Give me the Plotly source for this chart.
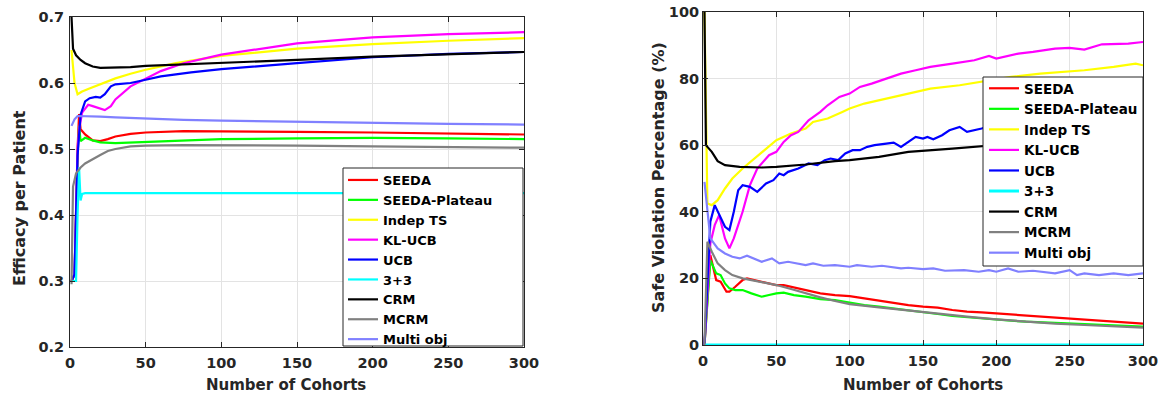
import plotly.graph_objects as go

# ---------------- Left panel: Efficacy per Patient ----------------
eff_seeda_x = [1, 3, 5, 6, 7, 10, 15, 20, 25, 30, 40, 50, 75, 100, 150, 200, 250, 300]
eff_seeda_y = [0.30, 0.31, 0.50, 0.553, 0.530, 0.522, 0.513, 0.512, 0.515, 0.519, 0.523, 0.525, 0.527, 0.527, 0.526, 0.525, 0.523, 0.522]

eff_plateau_x = [1, 3, 5, 6, 7, 10, 15, 20, 30, 40, 50, 75, 100, 150, 200, 250, 300]
eff_plateau_y = [0.30, 0.31, 0.49, 0.535, 0.512, 0.517, 0.513, 0.510, 0.509, 0.510, 0.511, 0.513, 0.515, 0.516, 0.517, 0.516, 0.515]

eff_indep_x = [1, 3, 5, 8, 12, 20, 30, 40, 50, 70, 100, 150, 200, 250, 300]
eff_indep_y = [0.65, 0.60, 0.583, 0.587, 0.591, 0.598, 0.607, 0.614, 0.620, 0.630, 0.641, 0.652, 0.659, 0.664, 0.668]

eff_klucb_x = [1, 3, 5, 6, 8, 12, 15, 20, 23, 27, 30, 40, 50, 60, 75, 100, 150, 200, 250, 300]
eff_klucb_y = [0.30, 0.31, 0.50, 0.530, 0.555, 0.567, 0.565, 0.561, 0.559, 0.565, 0.575, 0.595, 0.607, 0.618, 0.630, 0.643, 0.660, 0.669, 0.674, 0.677]

eff_ucb_x = [1, 3, 5, 7, 10, 13, 17, 20, 23, 27, 30, 40, 50, 60, 80, 100, 150, 200, 250, 300]
eff_ucb_y = [0.30, 0.31, 0.49, 0.552, 0.572, 0.577, 0.579, 0.578, 0.583, 0.595, 0.598, 0.600, 0.605, 0.610, 0.616, 0.621, 0.630, 0.639, 0.644, 0.647]

eff_33_x = [1, 3, 4, 5, 6, 7, 8, 10, 300]
eff_33_y = [0.30, 0.30, 0.30, 0.40, 0.472, 0.422, 0.432, 0.433, 0.433]

eff_crm_x = [1, 2, 4, 7, 10, 15, 20, 30, 40, 50, 75, 100, 150, 200, 250, 300]
eff_crm_y = [0.70, 0.652, 0.642, 0.635, 0.630, 0.625, 0.623, 0.623, 0.624, 0.626, 0.628, 0.630, 0.635, 0.640, 0.643, 0.647]

eff_mcrm_x = [1, 2, 4, 7, 10, 15, 20, 25, 30, 40, 50, 75, 100, 150, 200, 250, 300]
eff_mcrm_y = [0.295, 0.443, 0.463, 0.472, 0.478, 0.485, 0.491, 0.497, 0.500, 0.504, 0.505, 0.506, 0.506, 0.505, 0.504, 0.503, 0.502]

eff_multi_x = [1, 3, 5, 10, 20, 30, 50, 75, 100, 150, 200, 250, 300]
eff_multi_y = [0.535, 0.545, 0.550, 0.550, 0.549, 0.548, 0.546, 0.544, 0.543, 0.541, 0.539, 0.538, 0.537]

# ---------------- Right panel: Safe Violation Percentage ----------------
sv_seeda_x = [1, 5, 9, 12, 16, 18, 22, 27, 30, 35, 40, 45, 50, 55, 60, 70, 80, 90, 100, 110,
              120, 130, 140, 150, 160, 170, 180, 190, 200, 210, 220, 230, 240, 250, 260, 270, 280, 290, 300]
sv_seeda_y = [0, 27, 19.5, 19, 16, 16, 17.5, 19.5, 20, 19.5, 19, 18.5, 18, 18, 17.5, 16.5, 15.5, 15, 14.7, 14,
              13.3, 12.5, 12, 11.5, 11.2, 10.5, 10, 9.8, 9.5, 9.2, 8.8, 8.5, 8.2, 7.8, 7.5, 7.2, 6.9, 6.7, 6.4]

sv_plateau_x = [1, 5, 9, 12, 15, 18, 22, 27, 33, 40, 45, 50, 55, 62, 70, 80, 90, 100,
                110, 120, 130, 140, 150, 160, 170, 180, 190, 200, 210, 220, 230, 240, 250, 260, 270, 280, 290, 300]
sv_plateau_y = [0, 25.5, 21.5, 21, 18.5, 17, 16.5, 16.5, 15.5, 14.5, 15, 15.5, 15.7, 15, 14.5, 13.8, 13.5, 12.7,
                12, 11.5, 11, 10.3, 10, 9.3, 8.7, 8.3, 7.9, 7.6, 7.3, 7, 6.8, 6.5, 6.3, 6.1, 5.9, 5.7, 5.6, 5.5]

sv_indep_x = [1, 3, 6, 10, 15, 20, 27, 35, 45, 50, 60, 70, 75, 85, 95, 100, 110, 125, 135,
              155, 175, 195, 210, 230, 245, 260, 280, 295, 300]
sv_indep_y = [100, 42.5, 42, 43.5, 47, 50, 53, 56, 59.5, 61.5, 63.5, 65, 67, 68, 70, 71, 72.5, 74, 75,
              77, 78, 79.5, 80.5, 81.5, 82, 82.5, 83.5, 84.5, 84]

sv_klucb_x = [1, 5, 8, 11, 15, 18, 21, 27, 32, 37, 45, 50, 55, 60, 65, 72, 80, 85, 93, 100,
              107, 115, 125, 135, 145, 155, 170, 185, 195, 200, 215, 225, 240, 250, 260, 272, 290, 300]
sv_klucb_y = [0, 30.5, 36, 39, 32, 29, 32, 40, 48, 53, 57, 58, 61, 63, 64, 67.5, 70, 72, 74.5, 75.5,
              77.5, 78.5, 80, 81.5, 82.5, 83.5, 84.5, 85.5, 86.8, 86, 87.5, 88, 89, 89.2, 88.7, 90.3, 90.5, 91]

sv_ucb_x = [1, 5, 8, 12, 15, 18, 21, 24, 27, 32, 37, 43, 48, 52, 55, 58, 65, 72, 78, 83,
            87, 92, 97, 102, 107, 112, 117, 125, 130, 135, 140, 145, 150, 153, 157, 163, 168, 175, 180, 185,
            190, 197, 203, 207, 215, 220, 230, 235, 240, 245, 250, 255, 260, 270, 278, 285, 292, 300]
sv_ucb_y = [0, 37, 42, 38.5, 35.5, 34.5, 40, 46.5, 48, 47.5, 46, 48.5, 49.5, 51.5, 51, 52, 53, 54.5, 54, 55.5,
            56, 55.5, 57.5, 58.5, 58.5, 59.5, 60, 60.5, 60.8, 59.5, 61, 62.5, 62, 62.5, 61.8, 63, 64.5, 65.5, 64, 64.5,
            65, 66, 65.8, 66.3, 67.8, 67, 68, 69, 67.5, 69, 69.5, 68.5, 70, 69.5, 70, 69.5, 69, 70.5]

sv_33_x = [1, 300]
sv_33_y = [0, 0]

sv_crm_x = [1, 2, 3, 6, 10, 15, 25, 40, 50, 70, 90, 100, 120, 140, 170, 200, 230, 255, 300]
sv_crm_y = [100, 60, 59.5, 58, 55.2, 54, 53.5, 53.3, 53.5, 54.2, 55.2, 55.5, 56.5, 58, 59, 60, 61, 62, 63.2]

sv_mcrm_x = [1, 3, 6, 10, 15, 20, 27, 33, 40, 50, 60, 70, 80, 90, 100, 120, 140, 160, 180, 200,
             220, 240, 260, 280, 300]
sv_mcrm_y = [0, 31, 28, 24.5, 22.5, 21, 20, 19.5, 19, 18, 16.8, 15.5, 14.3, 13.2, 12.3, 11.3, 10.3, 9.3, 8.5, 7.7,
             7, 6.4, 6, 5.5, 5.2]

sv_multi_x = [1, 5, 10, 15, 20, 25, 30, 35, 40, 47, 52, 58, 65, 70, 75, 82, 90, 100, 105, 115,
              122, 135, 140, 150, 157, 165, 178, 188, 195, 200, 208, 215, 225, 235, 240, 250, 255, 260, 270, 280,
              290, 300]
sv_multi_y = [49, 32, 29, 27.5, 26.5, 26, 26.8, 26, 25, 26, 24.5, 25, 24.5, 24, 24.5, 23.8, 24, 23.5, 24, 23.5,
              23.8, 23, 23.2, 22.8, 23, 22.3, 22.5, 22, 22.5, 22, 23, 22, 22.3, 21.8, 21.5, 22.5, 21, 21.5, 21, 21.5,
              21, 21.5]

method_names = ["SEEDA", "SEEDA-Plateau", "Indep TS", "KL-UCB", "UCB", "3+3", "CRM", "MCRM", "Multi obj"]
method_colors = ["#FF0000", "#00FF00", "#FFFF00", "#FF00FF", "#0000FF", "#00FFFF", "#000000", "#808080", "#8080FF"]

eff_series = [(eff_seeda_x, eff_seeda_y), (eff_plateau_x, eff_plateau_y), (eff_indep_x, eff_indep_y),
              (eff_klucb_x, eff_klucb_y), (eff_ucb_x, eff_ucb_y), (eff_33_x, eff_33_y),
              (eff_crm_x, eff_crm_y), (eff_mcrm_x, eff_mcrm_y), (eff_multi_x, eff_multi_y)]
sv_series = [(sv_seeda_x, sv_seeda_y), (sv_plateau_x, sv_plateau_y), (sv_indep_x, sv_indep_y),
             (sv_klucb_x, sv_klucb_y), (sv_ucb_x, sv_ucb_y), (sv_33_x, sv_33_y),
             (sv_crm_x, sv_crm_y), (sv_mcrm_x, sv_mcrm_y), (sv_multi_x, sv_multi_y)]

FONT = "DejaVu Sans, Liberation Sans, Arial, sans-serif"
TXT = "#262626"

W, H = 1175, 397


def px(v):
    return v / W


def py(v):
    return 1 - v / H


fig = go.Figure()
for name, color, (xs, ys) in zip(method_names, method_colors, eff_series):
    fig.add_trace(go.Scatter(x=xs, y=ys, mode="lines", name=name,
                             line=dict(color=color, width=2.2),
                             xaxis="x", yaxis="y", legend="legend"))
for name, color, (xs, ys) in zip(method_names, method_colors, sv_series):
    fig.add_trace(go.Scatter(x=xs, y=ys, mode="lines", name=name,
                             line=dict(color=color, width=2.2 if name != "3+3" else 3),
                             xaxis="x2", yaxis="y2", legend="legend2",
                             cliponaxis=False if name == "3+3" else True))


def axis_style(**kw):
    d = dict(showline=True, linecolor=TXT, linewidth=1, mirror="ticks",
             ticks="inside", ticklen=5, tickcolor=TXT, tickwidth=1,
             showgrid=True, gridcolor="#e3e3e3", gridwidth=1, zeroline=False,
             tickfont=dict(family=FONT, size=14.5, color=TXT, weight="bold"),
             ticklabeloverflow="allow", automargin=False)
    d.update(kw)
    return d


title_font = dict(family=FONT, size=15, color=TXT, weight="bold")
ytitle_font = dict(family=FONT, size=16, color=TXT, weight="bold")

fig.update_layout(
    width=W, height=H,
    margin=dict(l=0, r=0, t=0, b=0),
    paper_bgcolor="white", plot_bgcolor="white",
    font=dict(family=FONT, color=TXT),
    xaxis=axis_style(domain=[px(70), px(524)], range=[0, 300], tickvals=[0, 50, 100, 150, 200, 250, 300],
                     anchor="y", ticklabelstandoff=3),
    yaxis=axis_style(domain=[py(347), py(17)], range=[0.2, 0.7],
                     tickvals=[0.2, 0.3, 0.4, 0.5, 0.6, 0.7], ticktext=["0.2", "0.3", "0.4", "0.5", "0.6", "0.7"],
                     anchor="x", ticklabelstandoff=2),
    xaxis2=axis_style(domain=[px(703), px(1143)], range=[0, 300], tickvals=[0, 50, 100, 150, 200, 250, 300],
                      anchor="y2", ticklabelstandoff=3),
    yaxis2=axis_style(domain=[py(345), py(12)], range=[0, 100], tickvals=[0, 20, 40, 60, 80, 100],
                      anchor="x2", ticklabelstandoff=0),
    annotations=[
        dict(text="Number of Cohorts", xref="paper", yref="paper", x=px(286), y=py(385),
             xanchor="center", yanchor="middle", showarrow=False, font=title_font),
        dict(text="Number of Cohorts", xref="paper", yref="paper", x=px(923), y=py(385),
             xanchor="center", yanchor="middle", showarrow=False, font=title_font),
        dict(text="Efficacy per Patient", xref="paper", yref="paper", x=px(19), y=py(198),
             xanchor="center", yanchor="middle", textangle=-90, showarrow=False, font=ytitle_font),
        dict(text="Safe Violation Percentage (%)", xref="paper", yref="paper", x=px(658), y=py(178),
             xanchor="center", yanchor="middle", textangle=-90, showarrow=False, font=ytitle_font),
    ],
    shapes=[
        dict(type="rect", xref="paper", yref="paper", x0=px(343), x1=px(523), y0=py(346), y1=py(168),
             fillcolor="white", line=dict(color=TXT, width=1), layer="above"),
        dict(type="rect", xref="paper", yref="paper", x0=px(983), x1=px(1143), y0=py(266), y1=py(77),
             fillcolor="white", line=dict(color=TXT, width=1), layer="above"),
    ],
    legend=dict(x=px(343), y=py(165), xanchor="left", yanchor="top",
                bgcolor="rgba(0,0,0,0)", borderwidth=0,
                font=dict(family=FONT, size=13, color="#000000", weight="bold"),
                tracegroupgap=0, itemwidth=30),
    legend2=dict(x=px(984), y=py(73), xanchor="left", yanchor="top",
                 bgcolor="rgba(0,0,0,0)", borderwidth=0,
                 font=dict(family=FONT, size=13.5, color="#000000", weight="bold"),
                 tracegroupgap=0, itemwidth=30),
    showlegend=True,
)

fig.write_html("out.html",
               config={"displayModeBar": False},
               post_script="document.body.style.margin='0';document.body.style.overflow='hidden';")
